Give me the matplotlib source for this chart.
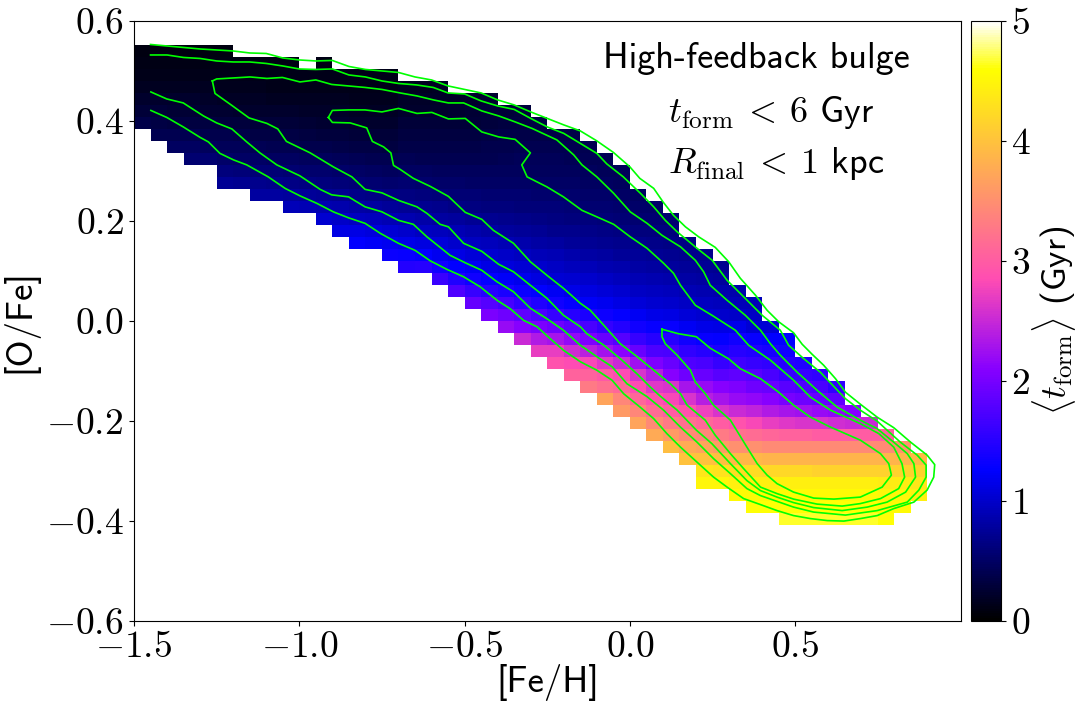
import numpy as np
import matplotlib
matplotlib.use("Agg")
import matplotlib.pyplot as plt

plt.rcParams['font.family'] = ['cmss10', 'DejaVu Sans']
plt.rcParams['mathtext.fontset'] = 'cm'
plt.rcParams['axes.formatter.use_mathtext'] = True

x_edges = np.linspace(-1.5, 1.0, 51)
y_edges = np.linspace(0.6, -0.6, 51)

# index (from the top of the plot) of the first filled [O/Fe] bin in each [Fe/H] column
col_top = [2, 2, 2, 2, 2, 2, 3, 3, 3, 3, 4, 3, 4, 4, 4, 4, 5, 5, 5, 6, 6, 6, 7, 7,
           8, 9, 9, 10, 11, 12, 14, 15, 16, 18, 19, 20, 22, 23, 25, 26, 28, 29, 30,
           32, 33, 34, 35, 36]

# mean formation time (Gyr) per column, top bin to bottom bin
col_age = [
    [.08, .1, .13, .17, .22, .29, .37],
    [.08, .1, .13, .17, .22, .28, .34, .4],
    [.08, .1, .13, .17, .22, .27, .33, .4, .48],
    [.08, .1, .13, .17, .22, .27, .33, .4, .47, .55],
    [.08, .1, .13, .17, .21, .25, .32, .39, .46, .55],
    [.08, .1, .12, .15, .19, .25, .31, .38, .44, .52, .62, .74],
    [.1, .12, .15, .18, .23, .31, .37, .43, .5, .6, .71],
    [.1, .12, .15, .18, .23, .29, .35, .42, .49, .58, .69, .8],
    [.1, .12, .13, .17, .22, .28, .34, .41, .48, .57, .67, .79],
    [.1, .12, .13, .17, .22, .28, .34, .4, .47, .55, .65, .78, .9],
    [.12, .13, .17, .2, .26, .33, .39, .46, .54, .63, .76, .89],
    [.1, .12, .13, .17, .2, .25, .31, .38, .45, .53, .61, .74, .87, 1.03],
    [.12, .13, .17, .2, .25, .3, .37, .43, .51, .6, .71, .85, .98, 1.13],
    [.12, .13, .15, .18, .23, .29, .35, .42, .49, .58, .68, .81, .95, 1.12, 1.25],
    [.12, .13, .15, .18, .23, .28, .34, .41, .48, .56, .66, .79, .92, 1.08, 1.22],
    [.12, .13, .15, .18, .22, .28, .33, .4, .46, .54, .63, .76, .89, 1.04, 1.18, 1.32],
    [.17, .2, .23, .28, .32, .37, .42, .48, .55, .63, .74, .87, 1.0, 1.15, 1.3, 1.48],
    [.17, .2, .23, .28, .32, .37, .41, .47, .54, .61, .71, .83, .95, 1.1, 1.26, 1.5],
    [.18, .2, .23, .28, .32, .36, .41, .46, .52, .6, .69, .8, .92, 1.06, 1.18, 1.35, 1.62],
    [.21, .25, .28, .32, .36, .4, .45, .51, .58, .66, .77, .88, 1.0, 1.12, 1.26, 1.45, 1.75],
    [.23, .26, .29, .33, .37, .41, .45, .5, .57, .64, .74, .85, .95, 1.07, 1.2, 1.36, 1.6, 1.88],
    [.25, .28, .3, .34, .38, .41, .45, .5, .56, .62, .71, .81, .92, 1.02, 1.13, 1.28, 1.5, 1.78, 2.02],
    [.29, .32, .36, .39, .42, .46, .5, .55, .61, .69, .78, .88, .98, 1.08, 1.22, 1.42, 1.68, 1.95, 2.2],
    [.31, .33, .37, .4, .43, .46, .5, .55, .6, .67, .75, .85, .94, 1.04, 1.16, 1.32, 1.55, 1.85, 2.1, 2.5],
    [.34, .37, .4, .43, .46, .5, .54, .6, .65, .73, .82, .91, 1.0, 1.1, 1.26, 1.45, 1.72, 2.02, 2.35, 2.7],
    [.37, .4, .43, .46, .5, .54, .59, .64, .7, .79, .88, .97, 1.05, 1.2, 1.35, 1.6, 1.95, 2.3, 2.7, 2.9],
    [.37, .4, .42, .45, .49, .53, .57, .62, .69, .76, .85, .93, 1.02, 1.14, 1.28, 1.5, 1.82, 2.18, 2.55, 2.85, 3.05],
    [.4, .42, .45, .48, .52, .56, .61, .67, .74, .82, .9, 1.0, 1.1, 1.23, 1.42, 1.7, 2.05, 2.42, 2.8, 3.05, 3.3],
    [.42, .44, .47, .51, .55, .6, .65, .71, .79, .87, .96, 1.06, 1.18, 1.34, 1.58, 1.9, 2.28, 2.65, 2.95, 3.2, 3.7],
    [.44, .46, .49, .53, .58, .63, .69, .76, .84, .93, 1.02, 1.12, 1.27, 1.48, 1.78, 2.12, 2.5, 2.85, 3.1, 3.4, 3.6],
    [.48, .52, .56, .62, .69, .75, .81, .89, .97, 1.06, 1.2, 1.35, 1.6, 1.9, 2.25, 2.6, 2.85, 3.1, 3.4, 3.7],
    [.52, .56, .61, .67, .73, .79, .86, .94, 1.03, 1.15, 1.3, 1.5, 1.72, 2.05, 2.4, 2.65, 2.9, 3.15, 3.45, 3.75],
    [.56, .61, .66, .72, .78, .85, .92, 1.0, 1.12, 1.3, 1.5, 1.7, 1.9, 2.1, 2.6, 2.8, 3.0, 3.3, 3.6, 3.95],
    [.65, .7, .76, .82, .89, .97, 1.07, 1.2, 1.35, 1.55, 1.75, 1.95, 2.3, 2.6, 2.9, 3.2, 3.45, 3.75, 4.0],
    [.69, .74, .8, .87, .95, 1.03, 1.15, 1.3, 1.5, 1.7, 1.9, 2.2, 2.4, 2.75, 3.1, 3.4, 3.7, 4.0, 4.35, 4.5],
    [.72, .78, .85, .92, 1.0, 1.12, 1.27, 1.42, 1.6, 1.8, 2.1, 2.3, 2.6, 3.0, 3.3, 3.6, 3.95, 4.3, 4.5],
    [.84, .9, .98, 1.15, 1.35, 1.5, 1.65, 1.85, 2.05, 2.2, 2.5, 2.9, 3.2, 3.5, 3.9, 4.25, 4.45, 4.55],
    [.9, .97, 1.05, 1.3, 1.45, 1.6, 1.8, 1.95, 2.15, 2.45, 2.8, 3.15, 3.5, 3.9, 4.25, 4.45, 4.55, 4.6],
    [1.05, 1.25, 1.4, 1.55, 1.7, 1.9, 2.1, 2.35, 2.7, 3.1, 3.45, 3.85, 4.2, 4.45, 4.55, 4.6],
    [1.25, 1.35, 1.5, 1.6, 1.8, 2.0, 2.3, 2.65, 3.05, 3.45, 3.85, 4.2, 4.45, 4.55, 4.6, 4.65],
    [1.45, 1.6, 1.75, 1.95, 2.25, 2.6, 3.05, 3.45, 3.85, 4.2, 4.45, 4.55, 4.6, 4.65],
    [1.55, 1.7, 1.9, 2.2, 2.6, 3.0, 3.45, 3.85, 4.15, 4.45, 4.55, 4.6, 4.65],
    [1.55, 1.85, 2.15, 2.55, 3.0, 3.45, 3.85, 4.15, 4.45, 4.55, 4.6, 4.65],
    [2.1, 2.5, 3.0, 3.45, 3.85, 4.15, 4.45, 4.55, 4.6, 4.65],
    [2.5, 3.0, 3.45, 3.85, 4.15, 4.45, 4.55, 4.6, 4.65],
    [3.0, 3.45, 3.85, 4.15, 4.4, 4.5, 4.55, 4.6],
    [3.5, 3.85, 4.15, 4.4, 4.5, 4.55],
    [3.9, 4.15, 4.35, 4.45],
]

# density contours: [Fe/H], [O/Fe]
c1_feh = [-1.45, -1.40, -1.30, -1.20, -1.15, -1.10, -1.05, -1.00, -.95, -.90, -.85, -.80, -.75, -.70, -.65, -.60, -.55, -.50, -.45, -.40, -.35, -.30, -.25, -.20, -.15, -.10, -.05, 0.0, .03, .072, .10, .132, .168, .208, .258, .299, .334, .380, .415, .450, .495, .521, .551, .586, .622, .652, .697, .748, .798, .849, .899, .922, .919, .899, .859, .798, .748, .697, .647, .597, .546, .495, .445, .395, .344, .294, .253, .203, .153, .112, .072, .031, -.019, -.054, -.100, -.150, -.201, -.241, -.281, -.322, -.362, -.402, -.453, -.503, -.554, -.604, -.650, -.700, -.755, -.801, -.851, -.897, -.947, -.998, -1.043, -1.094, -1.159, -1.199, -1.240, -1.275, -1.300, -1.351, -1.401, -1.449]
c1_ofe = [.553, .550, .544, .540, .536, .535, .526, .522, .520, .521, .509, .503, .500, .497, .488, .482, .470, .463, .456, .442, .432, .418, .405, .392, .380, .360, .337, .308, .285, .265, .238, .211, .188, .168, .147, .118, .085, .051, .021, -.002, -.024, -.047, -.067, -.089, -.116, -.143, -.167, -.193, -.214, -.243, -.269, -.288, -.313, -.339, -.363, -.376, -.390, -.396, -.401, -.400, -.396, -.390, -.380, -.368, -.356, -.333, -.313, -.283, -.253, -.226, -.196, -.173, -.146, -.119, -.099, -.082, -.059, -.036, -.012, .001, .024, .041, .068, .088, .103, .120, .141, .155, .175, .195, .206, .218, .235, .250, .265, .288, .312, .322, .335, .358, .367, .388, .407, .421]

c2_feh = [-1.45, -1.40, -1.35, -1.30, -1.25, -1.20, -1.15, -1.10, -1.05, -1.00, -.95, -.90, -.85, -.80, -.75, -.70, -.645, -.595, -.55, -.50, -.45, -.40, -.35, -.30, -.25, -.20, -.15, -.10, -.07, -.02, .032, .072, .107, .143, .203, .249, .294, .344, .400, .455, .480, .526, .576, .652, .697, .748, .818, .869, .896, .896, .874, .839, .748, .652, .556, .495, .395, .354, .304, .253, .203, .153, .102, .052, -.009, -.054, -.100, -.150, -.201, -.251, -.301, -.352, -.402, -.448, -.498, -.544, -.614, -.655, -.700, -.750, -.801, -.851, -.902, -.937, -.998, -1.068, -1.119, -1.159, -1.204, -1.250, -1.290, -1.351, -1.401, -1.449]
c2_ofe = [.532, .532, .527, .525, .520, .518, .518, .515, .510, .504, .503, .504, .492, .488, .480, .475, .472, .467, .456, .454, .440, .430, .423, .405, .388, .375, .355, .335, .314, .288, .255, .228, .201, .178, .145, .121, .081, .048, .011, -.019, -.049, -.076, -.103, -.156, -.179, -.201, -.243, -.269, -.289, -.313, -.339, -.363, -.380, -.389, -.383, -.373, -.350, -.336, -.306, -.276, -.243, -.213, -.179, -.152, -.126, -.092, -.072, -.049, -.019, .004, .025, .058, .078, .101, .116, .131, .168, .193, .201, .218, .228, .248, .252, .263, .290, .312, .336, .358, .384, .396, .410, .436, .444, .458]

c3_feh = [-1.263, -1.250, -1.149, -1.098, -1.051, -.998, -.950, -.902, -.801, -.750, -.695, -.644, -.594, -.549, -.503, -.448, -.397, -.347, -.296, -.221, -.170, -.145, -.100, -.049, .001, .052, .097, .153, .198, .223, .243, .294, .349, .395, .425, .455, .506, .566, .627, .697, .748, .798, .839, .859, .864, .834, .778, .718, .642, .556, .495, .445, .395, .354, .304, .248, .201, .143, .092, .062, .021, -.029, -.079, -.130, -.150, -.201, -.251, -.301, -.352, -.397, -.448, -.503, -.549, -.574, -.614, -.644, -.700, -.750, -.801, -.841, -.897, -.967, -1.039, -1.065, -1.098, -1.152, -1.204, -1.255, -1.263]
c3_ofe = [.480, .484, .488, .485, .487, .478, .482, .473, .467, .463, .456, .450, .442, .436, .436, .420, .410, .398, .385, .362, .332, .312, .288, .255, .218, .195, .171, .148, .121, .098, .071, .041, .011, -.019, -.046, -.069, -.103, -.139, -.173, -.199, -.216, -.243, -.266, -.286, -.313, -.343, -.363, -.373, -.380, -.374, -.364, -.353, -.340, -.320, -.286, -.246, -.219, -.179, -.151, -.133, -.106, -.076, -.049, -.026, -.012, .011, .045, .071, .098, .113, .139, .155, .188, .193, .215, .228, .241, .256, .263, .288, .308, .336, .359, .384, .395, .406, .431, .455, .480]

c4_feh = [-.912, -.900, -.851, -.801, -.750, -.700, -.644, -.599, -.549, -.498, -.448, -.397, -.347, -.301, -.327, -.311, -.251, -.201, -.145, -.100, -.049, .001, .052, .102, .132, .153, .198, .253, .319, .359, .425, .495, .546, .607, .697, .753, .798, .823, .831, .813, .758, .697, .642, .566, .495, .445, .395, .344, .304, .258, .228, .173, .153, .122, .072, .022, -.029, -.079, -.120, -.150, -.201, -.251, -.301, -.352, -.413, -.448, -.498, -.549, -.604, -.655, -.695, -.715, -.723, -.745, -.779, -.796, -.846, -.900, -.912]
c4_ofe = [.407, .421, .422, .422, .418, .425, .415, .417, .404, .405, .378, .368, .363, .336, .312, .288, .268, .248, .221, .208, .193, .168, .145, .115, .095, .071, .031, .009, -.019, -.049, -.079, -.119, -.153, -.179, -.206, -.226, -.253, -.286, -.313, -.336, -.356, -.366, -.371, -.367, -.357, -.346, -.333, -.296, -.266, -.229, -.199, -.169, -.146, -.126, -.099, -.072, -.046, -.009, .021, .035, .065, .091, .118, .155, .181, .203, .217, .249, .269, .285, .303, .311, .336, .348, .359, .386, .396, .397, .407]

c5_feh = [.097, .147, .201, .243, .298, .334, .395, .450, .495, .546, .607, .697, .758, .783, .791, .763, .697, .617, .556, .495, .445, .415, .385, .354, .304, .253, .228, .198, .183, .143, .107, .097, .097]
c5_ofe = [-.017, -.026, -.032, -.055, -.076, -.096, -.116, -.143, -.169, -.193, -.213, -.239, -.266, -.286, -.309, -.333, -.353, -.357, -.355, -.343, -.326, -.309, -.286, -.253, -.199, -.169, -.146, -.123, -.099, -.069, -.046, -.032, -.017]

contours = [(c1_feh, c1_ofe), (c2_feh, c2_ofe), (c3_feh, c3_ofe), (c4_feh, c4_ofe), (c5_feh, c5_ofe)]

x_ticks = [-1.5, -1.0, -0.5, 0.0, 0.5]
x_tick_labels = ['$-1.5$', '$-1.0$', '$-0.5$', '$0.0$', '$0.5$']
y_ticks = [-0.6, -0.4, -0.2, 0.0, 0.2, 0.4, 0.6]
y_tick_labels = ['$-0.6$', '$-0.4$', '$-0.2$', '$0.0$', '$0.2$', '$0.4$', '$0.6$']
cb_ticks = [0, 1, 2, 3, 4, 5]
cb_tick_labels = ['$0$', '$1$', '$2$', '$3$', '$4$', '$5$']

grid = np.full((50, 50), np.nan)
for c, (top, ages) in enumerate(zip(col_top, col_age)):
    grid[top:top + len(ages), c] = ages
grid = np.ma.masked_invalid(grid)

W, H = 1076, 713
fig = plt.figure(figsize=(W / 100, H / 100), dpi=100)
ax = fig.add_axes([134 / W, 1 - 620.5 / H, 826.5 / W, 599.5 / H])
cax = fig.add_axes([971 / W, 1 - 620.5 / H, 30 / W, 599.5 / H])

mesh = ax.pcolormesh(x_edges, y_edges, grid, cmap='gnuplot2', vmin=0, vmax=5,
                     linewidth=0, rasterized=True)
for feh, ofe in contours:
    ax.plot(feh, ofe, color='#00ff00', lw=1.2, solid_joinstyle='round')

ax.set_xlim(-1.5, 1.0)
ax.set_ylim(-0.6, 0.6)
ax.set_xticks(x_ticks, x_tick_labels)
ax.set_yticks(y_ticks, y_tick_labels)
ax.tick_params(labelsize=27, pad=4, length=3.5, width=0.8)
ax.set_xlabel('[Fe/H]', fontsize=26.5, labelpad=0)
ax.set_ylabel('[O/Fe]', fontsize=26.5, labelpad=5)

cb = fig.colorbar(mesh, cax=cax)
cb.set_ticks(cb_ticks, labels=cb_tick_labels)
cb.ax.tick_params(labelsize=27, pad=4, length=3.5, width=0.8)
cb.set_label(r'$\langle t_{\rm form} \rangle$ (Gyr)', fontsize=25.5, labelpad=-1)

ax.text(0.753, 0.937, 'High-feedback bulge', transform=ax.transAxes, fontsize=26,
        ha='center', va='center')
ax.text(0.771, 0.848, r'$t_{\rm form}\:<\:6$ Gyr', transform=ax.transAxes, fontsize=26,
        ha='center', va='center')
ax.text(0.777, 0.762, r'$R_{\rm final}\:<\:1$ kpc', transform=ax.transAxes, fontsize=26,
        ha='center', va='center')

fig.savefig('out.png', dpi=100)
